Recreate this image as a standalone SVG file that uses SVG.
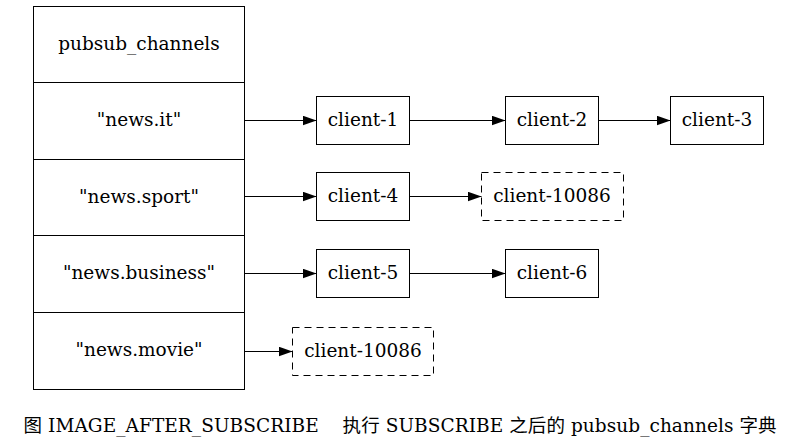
<svg xmlns="http://www.w3.org/2000/svg" width="797" height="448" viewBox="0 0 797 448">
<defs>
<marker id="ah" markerWidth="14" markerHeight="10" refX="13.5" refY="4.75" orient="auto" markerUnits="userSpaceOnUse">
<path d="M0,0 L13.5,4.75 L0,9.5 Z" fill="#000"/>
</marker>
</defs>
<style>
text{font-family:"DejaVu Serif",serif;font-size:18.5px;fill:#000;text-anchor:middle}
.cjk{font-family:"Noto Sans CJK SC",sans-serif}
.lat{font-family:"DejaVu Serif",serif}
.box{fill:#fff;stroke:#000;stroke-width:1}
.dash{fill:#fff;stroke:#000;stroke-width:1;stroke-dasharray:7,5}
.edge{stroke:#000;stroke-width:1;fill:none;marker-end:url(#ah)}
</style>
<rect width="797" height="448" fill="#fff"/>
<g id="pubsub_channels">
<rect class="box" x="33.5" y="6.5" width="211" height="383"/>
<line x1="33.5" y1="82.5" x2="244.5" y2="82.5" stroke="#000"/>
<line x1="33.5" y1="159.5" x2="244.5" y2="159.5" stroke="#000"/>
<line x1="33.5" y1="235.5" x2="244.5" y2="235.5" stroke="#000"/>
<line x1="33.5" y1="312.5" x2="244.5" y2="312.5" stroke="#000"/>
<text x="139" y="49.5">pubsub_channels</text>
<text x="139" y="126">"news.it"</text>
<text x="139" y="202.5">"news.sport"</text>
<text x="139" y="279">"news.business"</text>
<text x="139" y="356">"news.movie"</text>
</g>
<g id="client-1"><rect class="box" x="316.5" y="96.5" width="93" height="48"/><text x="363" y="126">client-1</text></g>
<g id="client-2"><rect class="box" x="505.5" y="96.5" width="93" height="48"/><text x="552" y="126">client-2</text></g>
<g id="client-3"><rect class="box" x="670.5" y="96.5" width="93" height="48"/><text x="717" y="126">client-3</text></g>
<g id="client-4"><rect class="box" x="316.5" y="172.5" width="93" height="48"/><text x="363" y="202">client-4</text></g>
<g id="client-10086-a"><rect class="dash" x="481.5" y="172.5" width="142" height="48"/><text x="552" y="202">client-10086</text></g>
<g id="client-5"><rect class="box" x="316.5" y="249.5" width="93" height="48"/><text x="363" y="279">client-5</text></g>
<g id="client-6"><rect class="box" x="505.5" y="249.5" width="93" height="48"/><text x="552" y="279">client-6</text></g>
<g id="client-10086-b"><rect class="dash" x="292.5" y="327.5" width="141" height="48"/><text x="363" y="357">client-10086</text></g>
<g id="edges">
<line class="edge" x1="244.5" y1="120.5" x2="316.5" y2="120.5"/>
<line class="edge" x1="409.5" y1="120.5" x2="505.5" y2="120.5"/>
<line class="edge" x1="598.5" y1="120.5" x2="670.5" y2="120.5"/>
<line class="edge" x1="244.5" y1="196.5" x2="316.5" y2="196.5"/>
<line class="edge" x1="409.5" y1="196.5" x2="481.5" y2="196.5"/>
<line class="edge" x1="244.5" y1="273.5" x2="316.5" y2="273.5"/>
<line class="edge" x1="409.5" y1="273.5" x2="505.5" y2="273.5"/>
<line class="edge" x1="244.5" y1="351.5" x2="292.5" y2="351.5"/>
</g>
<text x="400" y="432" textLength="753" lengthAdjust="spacing" style="white-space:pre"><tspan class="cjk">图</tspan><tspan class="lat"> IMAGE_AFTER_SUBSCRIBE    </tspan><tspan class="cjk">执行</tspan><tspan class="lat"> SUBSCRIBE </tspan><tspan class="cjk">之后的</tspan><tspan class="lat"> pubsub_channels </tspan><tspan class="cjk">字典</tspan></text>
</svg>
